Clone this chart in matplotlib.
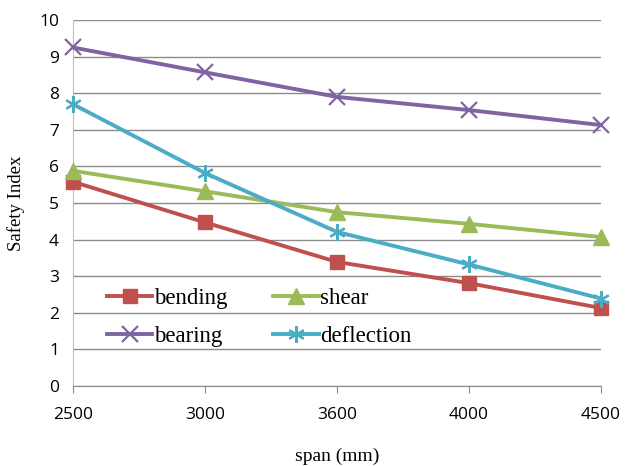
import matplotlib
matplotlib.use("Agg")
import matplotlib.pyplot as plt
import numpy as np

spans = ["2500", "3000", "3600", "4000", "4500"]
bending = [5.58, 4.47, 3.39, 2.81, 2.13]
shear = [5.88, 5.32, 4.75, 4.43, 4.07]
bearing = [9.25, 8.57, 7.9, 7.54, 7.13]
deflection = [7.7, 5.82, 4.21, 3.32, 2.39]

fig = plt.figure(figsize=(6.27, 4.66), dpi=100)
ax = fig.add_axes([0.1164, 0.1717, 0.8421, 0.7853])

x = np.arange(len(spans))
serif = "Liberation Serif"
sans = "Open Sans"

l1, = ax.plot(x, bending, color="#C0504D", lw=2.8, marker="s", ms=10, label="bending", zorder=3, clip_on=False)
l2, = ax.plot(x, shear, color="#9BBB59", lw=2.8, marker="^", ms=11, label="shear", zorder=3, clip_on=False)
l3, = ax.plot(x, bearing, color="#8064A2", lw=2.8, marker="x", ms=11, mew=1.6, label="bearing", zorder=3, clip_on=False)
l4, = ax.plot(x, deflection, color="#4BACC6", lw=2.8, marker=(6, 2, 0), ms=12, mew=1.6, label="deflection", zorder=3, clip_on=False)

ax.set_xlim(0, len(spans) - 1)
ax.set_ylim(0, 10)
ax.set_yticks(range(0, 11))
ax.set_xticks(x)
ax.set_xticklabels(spans, fontsize=12.5, family=sans)
for lab in ax.get_yticklabels():
    lab.set_family(sans)
    lab.set_fontsize(12.5)

ax.grid(axis="y", color="#8C8C8C", lw=1)
ax.set_axisbelow(True)
for s in ["top", "right"]:
    ax.spines[s].set_visible(False)
ax.spines["left"].set_color("#BFBFBF")
ax.spines["bottom"].set_color("#8C8C8C")
ax.tick_params(axis="y", length=0, pad=10)
ax.tick_params(axis="x", length=5, color="#8C8C8C", pad=10, direction="out")

ax.set_xlabel("span (mm)", family=serif, fontsize=14, labelpad=18)
ax.set_ylabel("Safety Index", family=serif, fontsize=13.5, labelpad=10)

ax.legend([l1, l3, l2, l4], ["bending", "bearing", "shear", "deflection"],
          loc="lower left", bbox_to_anchor=(0.042, 0.075), ncol=2, frameon=False,
          prop={"family": serif, "size": 16.5}, handlelength=2.0, handletextpad=0.08,
          columnspacing=1.97, labelspacing=0.74, borderpad=0)

fig.savefig("out.png", dpi=100)
